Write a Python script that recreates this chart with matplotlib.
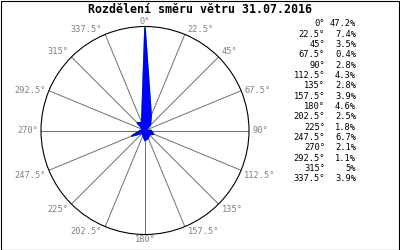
import numpy as np
import matplotlib
matplotlib.use("Agg")
import matplotlib.pyplot as plt
from matplotlib.patches import Rectangle

directions = [0, 22.5, 45, 67.5, 90, 112.5, 135, 157.5, 180, 202.5, 225, 247.5, 270, 292.5, 315, 337.5]
dir_labels = ["0°", "22.5°", "45°", "67.5°", "90°", "112.5°", "135°", "157.5°", "180°",
              "202.5°", "225°", "247.5°", "270°", "292.5°", "315°", "337.5°"]
percent = [47.2, 7.4, 3.5, 0.4, 2.8, 4.3, 2.8, 3.9, 4.6, 2.5, 1.8, 6.7, 2.1, 1.1, 5, 3.9]
pct_labels = ["47.2%", "7.4%", "3.5%", "0.4%", "2.8%", "4.3%", "2.8%", "3.9%", "4.6%",
              "2.5%", "1.8%", "6.7%", "2.1%", "1.1%", "5%", "3.9%"]
title = "Rozdělení směru větru 31.07.2016"

W, H = 400, 250
fig = plt.figure(figsize=(4, 2.5), dpi=100)
fig.patch.set_facecolor("white")

cx, cy, R = 145, 130.5, 104
ax = fig.add_axes([(cx - R) / W, (H - cy - R) / H, 2 * R / W, 2 * R / H], projection="polar")
ax.set_theta_zero_location("N")
ax.set_theta_direction(-1)
rmax = 48.0
ax.set_ylim(0, rmax)
ax.grid(False)
ax.set_xticks([])
ax.set_yticks([])
ax.spines["polar"].set_color("black")
ax.spines["polar"].set_linewidth(0.8)
ax.set_facecolor("white")

theta = np.deg2rad(directions)
for t in theta:
    ax.plot([t, t], [0, rmax], color="#707070", lw=0.7, zorder=1)

th = np.append(theta, theta[0])
vals = np.append(percent, percent[0])
ax.plot(th, vals, color="#00e000", lw=1.2, zorder=2, solid_joinstyle="miter")
ax.fill(th, vals, facecolor="#0000ff", edgecolor="#0000ff", lw=1.1, zorder=3,
        joinstyle="round")

mono = ["DejaVu Sans Mono"]
for t, d, lab in zip(theta, directions, dir_labels):
    s, c = np.sin(t), np.cos(t)
    if s > 0.01:
        ha, dx = "left", 2.2
    elif s < -0.01:
        ha, dx = "right", -2.2
    else:
        ha, dx = "center", 0
    if c > 0.5:
        va, dy = "bottom", 0.5
    elif c < -0.3:
        va, dy = "top", -0.5
    else:
        va, dy = "center", 0
    ax.annotate(lab, xy=(t, rmax), xytext=(dx, dy), textcoords="offset points",
                ha=ha, va=va, fontsize=6.2, color="#808080", family=mono,
                annotation_clip=False)

for i, (dl, pl) in enumerate(zip(dir_labels, pct_labels)):
    y = 1 - (24 + i * 10.33) / H
    fig.text(325 / W, y, dl, ha="right", va="center", fontsize=6.3, family=mono, color="black")
    fig.text(356 / W, y, pl, ha="right", va="center", fontsize=6.3, family=mono, color="black")

fig.text(0.5, 1 - 9.5 / H, title, ha="center", va="center", fontsize=8.4,
         fontweight="bold", family=mono, color="black")

fig.patches.append(Rectangle((0.5 / W, 0.5 / H), (W - 1.5) / W, (H - 1.5) / H,
                             transform=fig.transFigure, fill=False,
                             edgecolor="black", lw=0.8))

fig.savefig("out.png", dpi=100, facecolor="white")
